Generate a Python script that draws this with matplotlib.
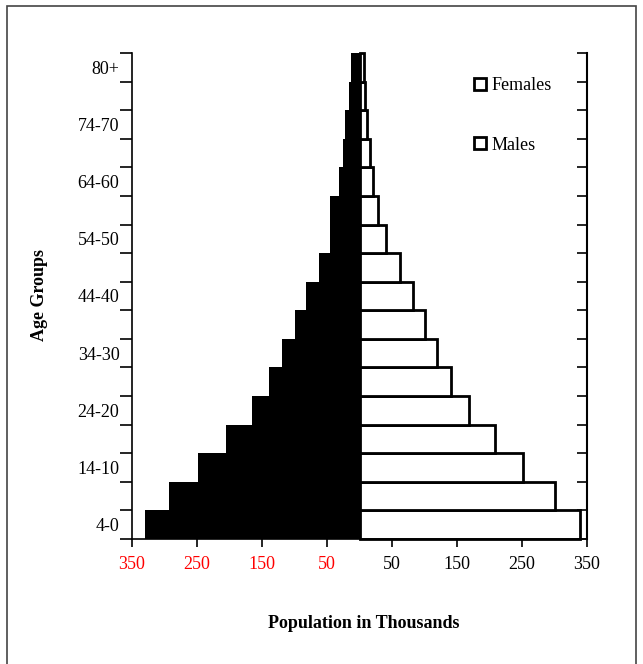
import matplotlib
matplotlib.use("Agg")
import matplotlib.pyplot as plt
from matplotlib.patches import Patch, Rectangle
import numpy as np

# age groups from youngest to oldest
age_groups = ['4-0', '9-5', '14-10', '19-15', '24-20', '29-25', '34-30', '39-35',
              '44-40', '49-45', '54-50', '59-55', '64-60', '69-65', '74-70', '79-75', '80+']
# population in thousands
left_side = [330, 293, 249, 206, 166, 140, 120, 100, 82, 63, 46, 46, 31, 26, 22, 16, 13]   # black bars
right_side = [339, 300, 252, 208, 169, 141, 119, 100, 83, 62, 41, 29, 20, 16, 12, 8, 7]   # white bars
x_ticks = [-350, -250, -150, -50, 50, 150, 250, 350]
x_tick_labels = ['350', '250', '150', '50', '50', '150', '250', '350']
legend_labels = ['Females', 'Males']

plt.rcParams['font.family'] = ['Liberation Serif', 'DejaVu Serif']
fs = 13

fig = plt.figure(figsize=(6.43, 6.64), dpi=100)
ax = fig.add_axes([132/643, 1-539/664, 455/643, 486/664])

y = np.arange(len(age_groups))
ax.barh(y, -np.array(left_side), height=1, color='black', linewidth=0)
ax.barh(y, right_side, height=1, color='white', edgecolor='black', linewidth=2, clip_on=False)

ax.set_xlim(-350, 350)
ax.set_ylim(-0.5, len(age_groups) - 0.5)

# x axis
ax.set_xticks(x_ticks)
ax.set_xticklabels(x_tick_labels, fontsize=fs)
for i, lab in enumerate(ax.get_xticklabels()):
    if x_ticks[i] < 0:
        lab.set_color('red')
ax.tick_params(axis='x', direction='out', length=6, width=1.2, pad=6)

# y axis: labels on every other group, ticks at boundaries
ax.set_yticks(y[::2])
ax.set_yticklabels(age_groups[::2], fontsize=fs)
ax.set_yticks(np.arange(-0.5, len(age_groups)), minor=True)
ax.tick_params(axis='y', which='major', length=0, pad=9)
ax.tick_params(axis='y', which='minor', direction='out', length=9, width=1.2)

ax.spines['top'].set_visible(False)
ax.spines['right'].set_visible(False)
ax.spines['left'].set_linewidth(1.2)
ax.spines['bottom'].set_linewidth(1.2)

# right axis with inward ticks
ax2 = ax.twinx()
ax2.set_ylim(ax.get_ylim())
ax2.set_yticks(np.arange(-0.5, len(age_groups)))
ax2.set_yticklabels([])
ax2.tick_params(axis='y', direction='in', length=7, width=1.2)
for s in ['top', 'left', 'bottom']:
    ax2.spines[s].set_visible(False)
ax2.spines['right'].set_linewidth(1.5)

handles = [Patch(facecolor='white', edgecolor='black', linewidth=2) for _ in legend_labels]
ax.legend(handles, legend_labels, loc='upper left', bbox_to_anchor=(0.752, 0.95),
          frameon=False, fontsize=fs, handlelength=0.65, handleheight=0.65,
          handletextpad=0.3, labelspacing=2.35, borderpad=0, borderaxespad=0)

fig.text(40/643, 1-295/664, 'Age Groups', rotation=90, ha='center', va='center',
         fontsize=fs, fontweight='bold')
fig.text(364/643, 1-623/664, 'Population in Thousands', ha='center', va='center',
         fontsize=fs, fontweight='bold')

# frame around the figure
fig.add_artist(Rectangle((7/643, -0.1), (636-7)/643, 1-6/664+0.1, transform=fig.transFigure,
                         fill=False, edgecolor='#444444', linewidth=1.2))

fig.savefig('out.png', dpi=100)
